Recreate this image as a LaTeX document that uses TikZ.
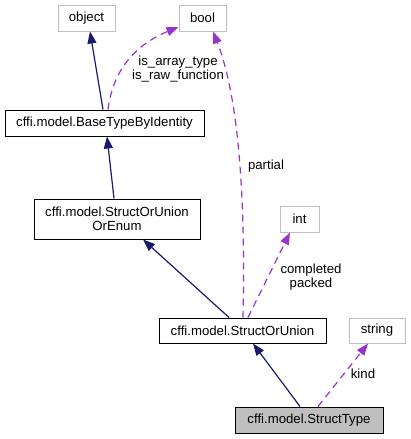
\documentclass[tikz,border=0pt]{standalone}
\usepackage{fontspec}
\setmainfont{Liberation Sans}
\usepackage{xcolor}
\usetikzlibrary{arrows.meta}
\definecolor{navyedge}{HTML}{191970}
\definecolor{orchid}{HTML}{9A32CD}
\definecolor{boxgrey}{HTML}{BFBFBF}

\begin{document}
\begin{tikzpicture}[x=1pt,y=-1pt,
  c/.style={draw=black,line width=1pt,align=center,inner sep=0pt,font=\fontsize{13.2}{14.3}\selectfont},
  ext/.style={c,draw=boxgrey},
  cur/.style={c,fill=boxgrey},
  inh/.style={-{Triangle[length=12pt,width=9pt]},navyedge,line width=1.2pt},
  rel/.style={-{Triangle[length=12pt,width=9pt]},orchid,line width=1.2pt,dash pattern=on 7pt off 5pt},
  lab/.style={align=center,inner sep=0pt,font=\fontsize{13.2}{14.3}\selectfont}]
\useasboundingbox (0,0) rectangle (410,439);
\node[ext,minimum width=57pt,minimum height=26pt] (object) at (86.5,18) {object};
\node[ext,minimum width=47pt,minimum height=26pt] (bool) at (202.5,18) {bool};
\node[c,minimum width=199pt,minimum height=26pt] (bti) at (104.5,123) {cffi.model.BaseTypeByIdentity};
\node[c,minimum width=166pt,minimum height=40pt] (souoe) at (117,219) {cffi.model.StructOrUnion\\OrEnum};
\node[ext,minimum width=39pt,minimum height=26pt] (int) at (299.5,219) {int};
\node[c,minimum width=167pt,minimum height=25pt] (sou) at (242.5,330.5) {cffi.model.StructOrUnion};
\node[ext,minimum width=56pt,minimum height=25pt] (string) at (377,330.5) {string};
\node[cur,minimum width=148pt,minimum height=26pt] (st) at (309,420) {cffi.model.StructType};
% inheritance
\draw[inh] ([xshift=-1.5pt]bti.north) -- ([xshift=3.5pt]object.south);
\draw[inh] ([xshift=-3pt]souoe.north) -- ([xshift=2.5pt]bti.south);
\draw[inh] ([xshift=-13.5pt]sou.north) -- ([xshift=26pt]souoe.south);
\draw[inh] ([xshift=-9pt]st.north) -- ([xshift=10.5pt]sou.south);
% members
\draw[rel] ([xshift=3.5pt]bti.north) .. controls (113,70) and (135,45) .. ([yshift=-9pt]bool.west);
\draw[rel] ([xshift=0.5pt]sou.north) .. controls (246,180) and (236,90) .. ([xshift=10.5pt]bool.south);
\draw[rel] ([xshift=5.5pt]sou.north) -- ([xshift=-9.5pt]int.south);
\draw[rel] ([xshift=9pt]st.north) -- ([xshift=-9pt]string.south);
\node[lab] (lbool) at (178,69) {is\_array\_type\\is\_raw\_function};
\node[lab] (lpartial) at (266,166) {partial};
\node[lab] (lint) at (311,277) {completed\\packed};
\node[lab] (lkind) at (363,374) {kind};
\end{tikzpicture}
\end{document}
